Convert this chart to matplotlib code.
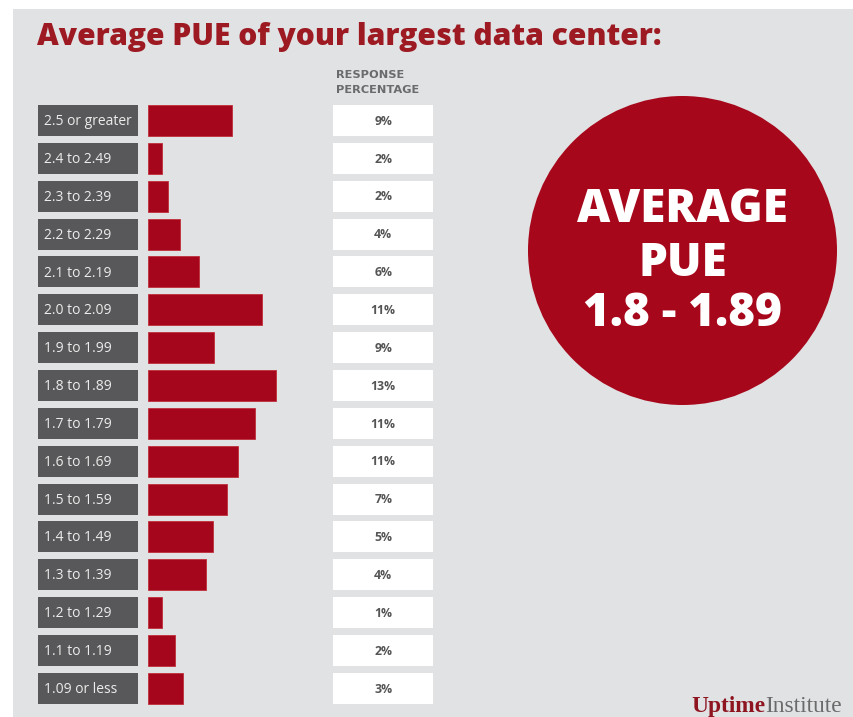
import matplotlib
matplotlib.use("Agg")
import matplotlib.pyplot as plt
from matplotlib.patches import Rectangle, Circle

# ---- data ----
categories = ["2.5 or greater", "2.4 to 2.49", "2.3 to 2.39", "2.2 to 2.29", "2.1 to 2.19",
              "2.0 to 2.09", "1.9 to 1.99", "1.8 to 1.89", "1.7 to 1.79", "1.6 to 1.69",
              "1.5 to 1.59", "1.4 to 1.49", "1.3 to 1.39", "1.2 to 1.29", "1.1 to 1.19",
              "1.09 or less"]
# bar lengths as drawn (in %)
bar_values = [8.55, 1.43, 1.98, 3.26, 5.16, 11.6, 6.7, 13.0, 10.9, 9.1, 8.0, 6.56, 5.85, 1.43, 2.69, 3.5]
pct_labels = ["9%", "2%", "2%", "4%", "6%", "11%", "9%", "13%", "11%", "11%", "7%", "5%", "4%", "1%", "2%", "3%"]

title = "Average PUE of your largest data center:"
circle_lines = ["AVERAGE", "PUE", "1.8 - 1.89"]

# ---- style ----
W, H = 854, 717
BG = "#e1e2e4"
RED = "#a6061c"
TITLE_RED = "#9d1a22"
DARK = "#58585a"
FONT = ["Open Sans", "DejaVu Sans"]

fig = plt.figure(figsize=(W / 100, H / 100), dpi=100)
fig.patch.set_facecolor("white")

# main pixel-coordinate axes for decorations
ax = fig.add_axes([0, 0, 1, 1])
ax.set_xlim(0, W)
ax.set_ylim(H, 0)
ax.axis("off")
ax.add_patch(Rectangle((13, 9), W - 13, H - 9, facecolor=BG, edgecolor="none"))

ax.text(37, 45, title, fontsize=21.6, fontweight="heavy", color=TITLE_RED,
        family=FONT, va="baseline", ha="left")
ax.text(336, 78, "RESPONSE", fontsize=8.2, fontweight="bold", color="#6a6b6d",
        family=["DejaVu Sans"], va="baseline", ha="left")
ax.text(336, 93, "PERCENTAGE", fontsize=8.2, fontweight="bold", color="#6a6b6d",
        family=["DejaVu Sans"], va="baseline", ha="left")

circ = Circle((682.5, 250.5), 154.5, facecolor="#a7071b", edgecolor="none")
ax.add_patch(circ)
for txt, y in zip(circle_lines, [222, 276, 326]):
    ax.text(682.5, y, txt, fontsize=33, fontweight="heavy", color="white",
            family=FONT, ha="center", va="baseline")

t1 = ax.text(691, 712, "Uptime", fontsize=16.8, fontweight="bold", color="#8e1520",
             family=["Liberation Serif"], ha="left", va="baseline")
fig.canvas.draw()
bb = t1.get_window_extent()
ax.text(691 + bb.width, 712, "Institute", fontsize=16.8, color="#6b6b6b",
        family=["Liberation Serif"], ha="left", va="baseline")

# row geometry
n = len(categories)
row_top = 120.5 - 37.85 / 2
rows_h = n * 37.85
bottom = H - (row_top + rows_h)
ypos = list(range(n))
bh = 31 / 37.85


def row_axes(x0, x1):
    a = fig.add_axes([x0 / W, bottom / H, (x1 - x0) / W, rows_h / H])
    a.set_ylim(n - 0.5, -0.5)
    a.axis("off")
    a.patch.set_alpha(0)
    return a

# label boxes
ax_lab = row_axes(38.3, 137.7)
ax_lab.set_xlim(0, 1)
ax_lab.barh(ypos, [1] * n, height=bh, color=DARK, left=0)
for y, c in zip(ypos, categories):
    ax_lab.text(0.055, y + 0.03, c, color="#ececec", fontsize=10, family=FONT,
                va="center", ha="left")

# bars
px_per_pct = 9.82
bar_w = 200
ax_bar = row_axes(148.3, 148.3 + bar_w)
ax_bar.set_xlim(0, bar_w / px_per_pct)
ax_bar.barh(ypos, bar_values, height=bh, color=RED, edgecolor="#c0303a", linewidth=0.6)

# percentage boxes
ax_pct = row_axes(333.3, 433)
ax_pct.set_xlim(0, 1)
ax_pct.barh(ypos, [1] * n, height=bh, color="white")
for y, p in zip(ypos, pct_labels):
    ax_pct.text(0.5, y + 0.02, p, color="#555555", fontsize=8.8, fontweight="bold",
                family=FONT, va="center", ha="center")

fig.savefig("out.png", dpi=100, facecolor=fig.get_facecolor())
